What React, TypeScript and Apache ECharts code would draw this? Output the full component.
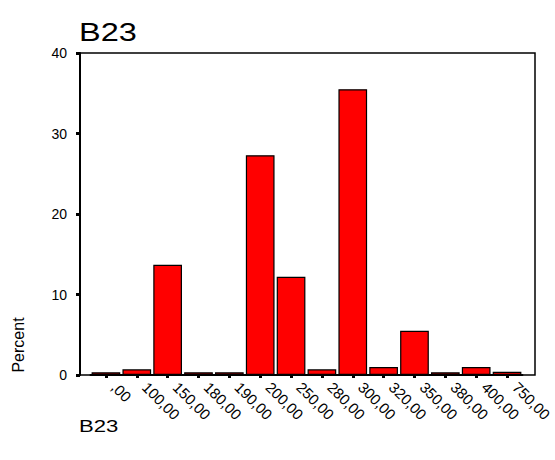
import React, { useEffect, useRef } from "react";
import * as echarts from "echarts";

const categories = [",00", "100,00", "150,00", "180,00", "190,00", "200,00", "250,00", "280,00", "300,00", "320,00", "350,00", "380,00", "400,00", "750,00"];
const percentValues = [0.34, 0.7, 13.7, 0.34, 0.34, 27.3, 12.2, 0.7, 35.5, 1.0, 5.5, 0.34, 1.0, 0.4];
const yTicks = { min: 0, max: 40, interval: 10 };
const titleText = "B23";
const yAxisName = "Percent";
const xAxisName = "B23";

const FONT = "'Liberation Sans', Arial, sans-serif";

export default function App() {
  const ref = useRef<HTMLDivElement>(null);
  useEffect(() => {
    if (!ref.current) return;
    const chart = echarts.init(ref.current, null, { renderer: "svg" });
    const option = {
      animation: false,
      backgroundColor: "#ffffff",
      grid: { left: 90.5, right: 31.5, top: 53, bottom: 85, containLabel: false },
      xAxis: {
        type: "category",
        data: categories,
        boundaryGap: true,
        axisLine: { show: true, lineStyle: { color: "#000", width: 2 } },
        axisTick: { show: true, alignWithLabel: true, length: 3, lineStyle: { color: "#000", width: 3 } },
        axisLabel: {
          interval: 0,
          rotate: -45,
          margin: 12,
          verticalAlign: "bottom",
          padding: [0, 0, 0, 4],
          fontFamily: FONT,
          fontSize: 15,
          color: "#000",
        },
      },
      yAxis: {
        type: "value",
        min: yTicks.min,
        max: yTicks.max,
        interval: yTicks.interval,
        offset: 10.5,
        axisLine: { show: true, lineStyle: { color: "#000", width: 2 } },
        axisTick: { show: true, length: 4, lineStyle: { color: "#000", width: 3 } },
        splitLine: { show: false },
        axisLabel: { fontFamily: FONT, fontSize: 14, color: "#000", margin: 13 },
      },
      graphic: [
        {
          type: "rect",
          z: 0,
          shape: { x: 80, y: 53, width: 455, height: 322 },
          style: { fill: "none", stroke: "#000", lineWidth: 1.5 },
        },
        {
          type: "text",
          x: 79,
          y: 32,
          scaleX: 1.25,
          style: { text: titleText, fontFamily: FONT, fontSize: 26, fill: "#000", align: "left", verticalAlign: "middle" },
        },
        {
          type: "text",
          x: 18,
          y: 345,
          rotation: Math.PI / 2,
          style: { text: yAxisName, fontFamily: FONT, fontSize: 16, fill: "#000", align: "center", verticalAlign: "middle" },
        },
        {
          type: "text",
          x: 79,
          y: 426,
          scaleX: 1.3,
          style: { text: xAxisName, fontFamily: FONT, fontSize: 17, fill: "#000", align: "left", verticalAlign: "middle" },
        },
      ],
      series: [
        {
          type: "bar",
          data: percentValues,
          barCategoryGap: "7%",
          itemStyle: { color: "#ff0000", borderColor: "#000", borderWidth: 1.2 },
        },
      ],
    };
    chart.setOption(option);
    return () => chart.dispose();
  }, []);
  return <div ref={ref} style={{ position: "fixed", left: 0, top: 0, width: 555, height: 460 }} />;
}
